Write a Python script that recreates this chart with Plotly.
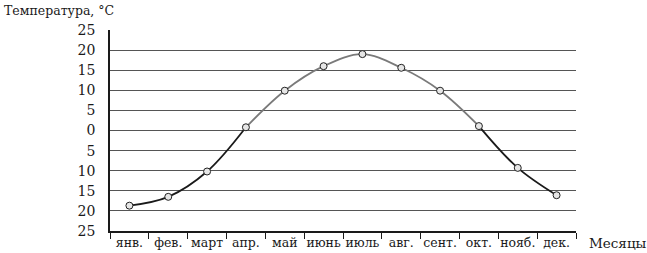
import plotly.graph_objects as go

months = ["янв.", "фев.", "март", "апр.", "май", "июнь", "июль", "авг.", "сент.", "окт.", "нояб.", "дек."]
temps = [-18.7, -16.5, -10.2, 0.8, 9.9, 16.0, 19.0, 15.6, 9.9, 1.1, -9.3, -16.1]
ytick_vals = [-25, -20, -15, -10, -5, 0, 5, 10, 15, 20, 25]
ytick_text = ["25", "20", "15", "10", "5", "0", "5", "10", "15", "20", "25"]

FONT = "DejaVu Serif"
fig = go.Figure()

# line segments: dark ends, grey middle
fig.add_trace(go.Scatter(x=months[0:4], y=temps[0:4], mode="lines",
                         line=dict(color="#1a1a1a", width=1.8, shape="spline", smoothing=1.0),
                         hoverinfo="skip", showlegend=False))
fig.add_trace(go.Scatter(x=months[3:10], y=temps[3:10], mode="lines",
                         line=dict(color="#7a7a7a", width=1.8, shape="spline", smoothing=1.0),
                         hoverinfo="skip", showlegend=False))
fig.add_trace(go.Scatter(x=months[9:12], y=temps[9:12], mode="lines",
                         line=dict(color="#1a1a1a", width=1.8, shape="spline", smoothing=1.0),
                         hoverinfo="skip", showlegend=False))
fig.add_trace(go.Scatter(x=months, y=temps, mode="markers",
                         marker=dict(size=7, color="#e6e6e6", line=dict(color="#222222", width=1)),
                         showlegend=False))

fig.update_layout(
    width=647, height=253,
    margin=dict(l=110, r=71, t=30, b=22),
    plot_bgcolor="white", paper_bgcolor="white",
    font=dict(family=FONT, color="#1a1a1a", size=12),
    xaxis=dict(type="category", categoryorder="array", categoryarray=months,
               showgrid=False, showline=True, linecolor="#1a1a1a", linewidth=1.5,
               ticks="outside", tickson="boundaries", ticklen=6, tickcolor="#1a1a1a",
               tickangle=0, automargin=False, ticklabelstandoff=-1,
               tickfont=dict(family=FONT, size=12.5, color="#1a1a1a"), zeroline=False,
               range=[-0.5, 11.5]),
    yaxis=dict(range=[-25, 25], tickvals=ytick_vals, ticktext=ytick_text,
               showgrid=True, gridcolor="#555555", gridwidth=1,
               showline=True, linecolor="#1a1a1a", linewidth=1.5, automargin=False,
               ticks="", ticklabelstandoff=10, zeroline=False,
               tickfont=dict(family=FONT, size=14, color="#1a1a1a")),
    annotations=[
        dict(text="Температура, °C", xref="paper", yref="paper", x=-108/466, y=1 + 20/201,
             xanchor="left", yanchor="middle", showarrow=False,
             font=dict(family=FONT, size=12.5, color="#1a1a1a")),
        dict(text="Месяцы", xref="paper", yref="paper", x=1 + 11/466, y=-12/201,
             xanchor="left", yanchor="middle", showarrow=False,
             font=dict(family=FONT, size=13.5, color="#1a1a1a")),
    ],
)

fig.write_html("out.html")
